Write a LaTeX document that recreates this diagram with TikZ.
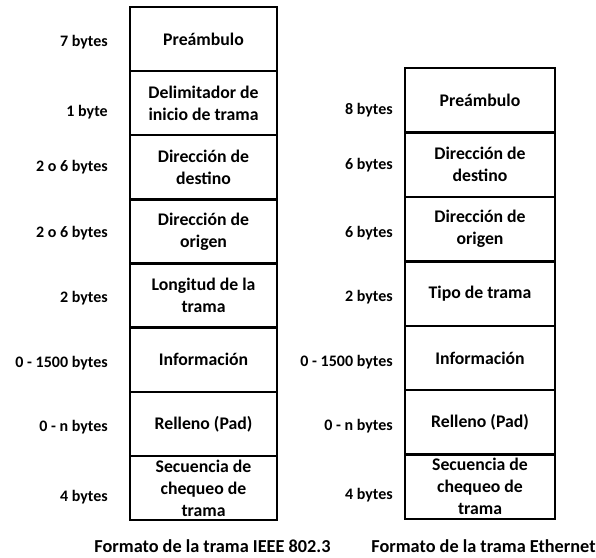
\documentclass[tikz,border=0pt]{standalone}
\usepackage{fontspec}
\setmainfont{Carlito}
\usetikzlibrary{calc}
\begin{document}
\begin{tikzpicture}[x=0.75pt,y=-0.75pt,
  field/.style={draw=black,line width=1.8pt,minimum width=#1,inner sep=0pt,
    align=center,font=\fontsize{13.3}{16.5}\selectfont\bfseries},
  lbl/.style={anchor=east,inner sep=0pt,font=\fontsize{12}{14}\selectfont\bfseries},
  captxt/.style={inner sep=0pt,font=\fontsize{13.7}{16}\selectfont\bfseries}]
\useasboundingbox (0,0) rectangle (596,557);
% left column
\def\lh{48.1pt}
\foreach \n/\t [count=\i] in {a1/Preámbulo,a2/{Delimitador de\\inicio de trama},a3/{Dirección de\\destino},a4/{Dirección de\\origen},a5/{Longitud de la\\trama},a6/Información,a7/{Relleno (Pad)},a8/{Secuencia de\\chequeo de\\trama}}
  \node[field=110.25pt,minimum height=\lh] (\n) at (203.5,{7+64.125*(\i-0.5)}) {\t};
% right column
\def\rh{48.3pt}
\foreach \n/\t [count=\i] in {b1/Preámbulo,b2/{Dirección de\\destino},b3/{Dirección de\\origen},b4/{Tipo de trama},b5/Información,b6/{Relleno (Pad)},b7/{Secuencia de\\chequeo de\\trama}}
  \node[field=112.5pt,minimum height=\rh] (\n) at (480,{68+64.43*(\i-0.5)}) {\t};
% left labels
\node[lbl] (la1) at (108,42) {7 bytes};
\node[lbl] (la2) at (108,112) {1 byte};
\node[lbl] (la3) at (108,167) {2 o 6 bytes};
\node[lbl] (la4) at (108,233) {2 o 6 bytes};
\node[lbl] (la5) at (108,298) {2 bytes};
\node[lbl] (la6) at (108,363) {0 - 1500 bytes};
\node[lbl] (la7) at (108,427) {0 - n bytes};
\node[lbl] (la8) at (108,497) {4 bytes};
% right labels
\node[lbl] (lb1) at (393,110) {8 bytes};
\node[lbl] (lb2) at (393,165) {6 bytes};
\node[lbl] (lb3) at (393,233) {6 bytes};
\node[lbl] (lb4) at (393,297) {2 bytes};
\node[lbl] (lb5) at (393,362) {0 - 1500 bytes};
\node[lbl] (lb6) at (393,426) {0 - n bytes};
\node[lbl] (lb7) at (393,495) {4 bytes};
% captions
\node[captxt] (c1) at (212.5,546) {Formato de la trama IEEE 802.3};
\node[captxt] (c2) at (483.5,546) {Formato de la trama Ethernet};
\end{tikzpicture}
\end{document}
